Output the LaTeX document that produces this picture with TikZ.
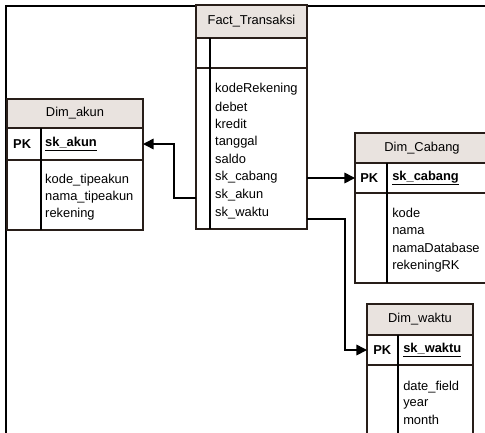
\documentclass[tikz,border=0pt]{standalone}
\usepackage{fontspec}
\setmainfont{Liberation Sans}
\usetikzlibrary{arrows.meta}
\definecolor{headfill}{RGB}{233,227,223}
\definecolor{boxline}{RGB}{40,30,25}

\begin{document}
\begin{tikzpicture}[x=0.03cm, y=-0.03cm,
    box/.style={draw=boxline, line width=1pt, outer sep=0pt, inner sep=0pt, anchor=north west},
    head/.style={box, fill=headfill},
    ttl/.style={inner sep=0pt, font=\fontsize{11}{13}\selectfont},
    fld/.style={anchor=west, inner sep=0pt, font=\fontsize{11}{13}\selectfont},
    fk/.style={line width=1.3pt, -{Triangle[length=9pt, width=9pt]}}]
    \useasboundingbox (0,0) rectangle (485,433);
    \begin{scope}
    \clip (0,0) rectangle (485,433);

    % Outer frame
    \draw[line width=1pt] (6,6) rectangle (520,470);

    % Fact_Transaksi
    \begin{scope}[xshift=5.88cm, yshift=-0.15cm]
        \node[head, minimum width=3.33cm, minimum height=0.99cm] (fHead) at (0,0) {};
        \node[box, minimum width=3.33cm, minimum height=0.9cm] (fPK) at (0,33) {};
        \node[box, minimum width=3.33cm, minimum height=4.83cm] (fBody) at (0,63) {};
        \draw[line width=1pt] (14,33) -- (14,224);
        \node[ttl] (fTitle) at (fHead) {Fact\_Transaksi};
        \node[fld] (fKode) at (19,84) {kodeRekening};
        \node[fld] (fDebet) at (19,102) {debet};
        \node[fld] (fKredit) at (19,119) {kredit};
        \node[fld] (fTanggal) at (19,137) {tanggal};
        \node[fld] (fSaldo) at (19,154) {saldo};
        \node[fld] (fCabang) at (19,172) {sk\_cabang};
        \node[fld] (fAkun) at (19,190) {sk\_akun};
        \node[fld] (fWaktu) at (19,208) {sk\_waktu};
    \end{scope}

    % Dim_akun
    \begin{scope}[xshift=0.21cm, yshift=-2.97cm]
        \node[head, minimum width=4.08cm, minimum height=0.87cm] (aHead) at (0,0) {};
        \node[box, minimum width=4.08cm, minimum height=0.96cm] (aPK) at (0,29) {};
        \node[box, minimum width=4.08cm, minimum height=2.1cm] (aBody) at (0,61) {};
        \draw[line width=1pt] (34,29) -- (34,131);
        \node[ttl] (aTitle) at (aHead) {Dim\_akun};
        \node[fld] (aPKlbl) at (6,45) {\textbf{PK}};
        \node[fld] (aKey) at (38,45) {\underline{\textbf{sk\_akun}}};
        \node[fld] (aKode) at (38,81) {kode\_tipeakun};
        \node[fld] (aNama) at (38,98) {nama\_tipeakun};
        \node[fld] (aRek) at (38,115) {rekening};
    \end{scope}

    % Dim_Cabang
    \begin{scope}[xshift=10.65cm, yshift=-3.99cm]
        \node[head, minimum width=4.02cm, minimum height=0.9cm] (cHead) at (0,0) {};
        \node[box, minimum width=4.02cm, minimum height=0.9cm] (cPK) at (0,30) {};
        \node[box, minimum width=4.02cm, minimum height=2.7cm] (cBody) at (0,60) {};
        \draw[line width=1pt] (32,30) -- (32,150);
        \node[ttl] (cTitle) at (cHead) {Dim\_Cabang};
        \node[fld] (cPKlbl) at (5,45) {\textbf{PK}};
        \node[fld] (cKey) at (37,45) {\underline{\textbf{sk\_cabang}}};
        \node[fld] (cKode) at (37,80) {kode};
        \node[fld] (cNama) at (37,98) {nama};
        \node[fld] (cDb) at (37,115) {namaDatabase};
        \node[fld] (cRek) at (37,133) {rekeningRK};
    \end{scope}

    % Dim_waktu
    \begin{scope}[xshift=11.01cm, yshift=-9.12cm]
        \node[head, minimum width=3.18cm, minimum height=0.93cm] (wHead) at (0,0) {};
        \node[box, minimum width=3.18cm, minimum height=0.9cm] (wPK) at (0,31) {};
        \node[box, minimum width=3.18cm, minimum height=3cm] (wBody) at (0,61) {};
        \draw[line width=1pt] (31,31) -- (31,161);
        \node[ttl] (wTitle) at (wHead) {Dim\_waktu};
        \node[fld] (wPKlbl) at (6,46) {\textbf{PK}};
        \node[fld] (wKey) at (36,46) {\underline{\textbf{sk\_waktu}}};
        \node[fld] (wDate) at (36,83) {date\_field};
        \node[fld] (wYear) at (36,100) {year};
        \node[fld] (wMonth) at (36,116) {month};
    \end{scope}

    % Foreign keys
    \coordinate (aSrc) at ([yshift=-0.09cm]fBody.west |- fAkun);
    \draw[fk] (aSrc) -- ++(-22,0) |- (aPK.east);
    \draw[fk] (cPK.west -| fBody.east) -- (cPK.west);
    \coordinate (wSrc) at ([yshift=-0.18cm]fBody.east |- fWaktu);
    \draw[fk] (wSrc) -- ++(38,0) |- (wPK.west);
    \end{scope}
\end{tikzpicture}
\end{document}
